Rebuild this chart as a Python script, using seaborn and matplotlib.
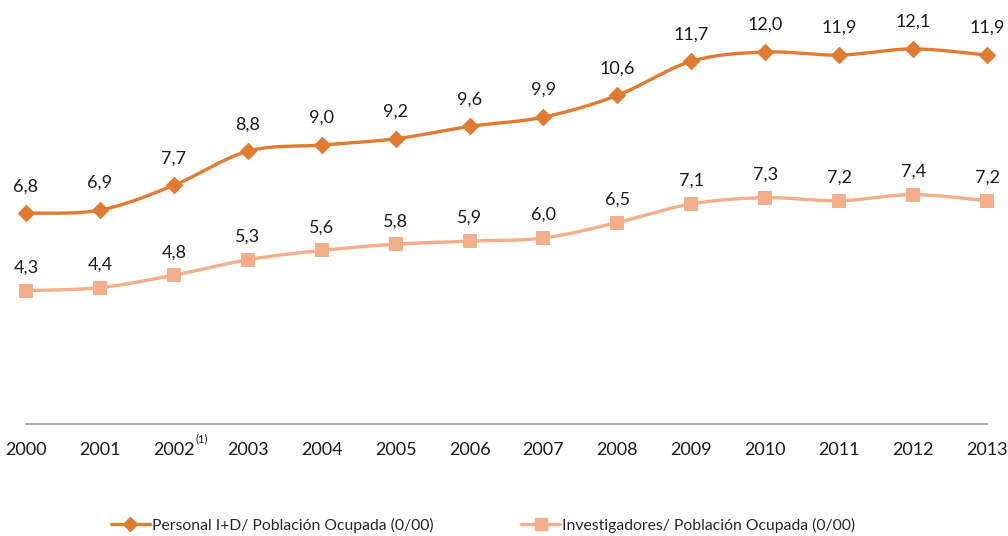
import numpy as np
import pandas as pd
import matplotlib
matplotlib.use("Agg")
import matplotlib.pyplot as plt
from matplotlib.lines import Line2D
import seaborn as sns

years = [2000, 2001, 2002, 2003, 2004, 2005, 2006, 2007, 2008, 2009, 2010, 2011, 2012, 2013]
tick_labels = ["2000", "2001", "2002", "2003", "2004", "2005", "2006", "2007",
               "2008", "2009", "2010", "2011", "2012", "2013"]
note_year = 2002
note_text = "(1)"
personal = [6.8, 6.9, 7.7, 8.8, 9.0, 9.2, 9.6, 9.9, 10.6, 11.7, 12.0, 11.9, 12.1, 11.9]
investigadores = [4.3, 4.4, 4.8, 5.3, 5.6, 5.8, 5.9, 6.0, 6.5, 7.1, 7.3, 7.2, 7.4, 7.2]
name_personal = "Personal I+D/ Población Ocupada (0/00)"
name_invest = "Investigadores/ Población Ocupada (0/00)"

c_dark = "#E07B31"
c_light = "#F4AE8A"

sns.set_theme(style="white")
plt.rcParams['font.family'] = ['Lato', 'DejaVu Sans']


def smooth(xs, ys, n=30):
    """Catmull-Rom style Bezier smoothing (like spreadsheet smoothed lines)."""
    xs = np.asarray(xs, float)
    ys = np.asarray(ys, float)
    px = np.concatenate([[xs[0]], xs, [xs[-1]]])
    py = np.concatenate([[ys[0]], ys, [ys[-1]]])
    outx, outy = [], []
    t = np.linspace(0, 1, n)
    for i in range(1, len(px) - 2):
        p0 = np.array([px[i], py[i]])
        p3 = np.array([px[i + 1], py[i + 1]])
        p1 = p0 + (np.array([px[i + 1], py[i + 1]]) - np.array([px[i - 1], py[i - 1]])) / 6
        p2 = p3 - (np.array([px[i + 2], py[i + 2]]) - np.array([px[i], py[i]])) / 6
        b = ((1 - t) ** 3)[:, None] * p0 + (3 * (1 - t) ** 2 * t)[:, None] * p1 + \
            (3 * (1 - t) * t ** 2)[:, None] * p2 + (t ** 3)[:, None] * p3
        outx.extend(b[:, 0])
        outy.extend(b[:, 1])
    return np.array(outx), np.array(outy)


fig = plt.figure(figsize=(10.08, 5.36), dpi=100)
ax = fig.add_axes([26 / 1008, 112 / 536, (987 - 26) / 1008, (424 - 2) / 536])

for vals, col, mk, ms, off in [(personal, c_dark, 'D', 10, 27), (investigadores, c_light, 's', 10, 23)]:
    sx, sy = smooth(years, vals)
    sns.lineplot(x=sx, y=sy, ax=ax, color=col, linewidth=2.4, sort=False, estimator=None, clip_on=False)
    df = pd.DataFrame({"year": years, "val": vals})
    sns.scatterplot(data=df, x="year", y="val", ax=ax, marker=mk, s=ms ** 2 if mk == 's' else (ms * 0.9) ** 2,
                    color=col, edgecolor=col, linewidth=0, clip_on=False, zorder=5)
    for x, v in zip(years, vals):
        ax.annotate(f"{v:.1f}".replace(".", ","), (x, v), xytext=(0, off * 0.72), textcoords="offset points",
                    ha="center", va="center", fontsize=13, color="#1a1a1a")

ax.set_xlim(2000, 2013)
ax.set_ylim(0, (424 - 2) / 31)
ax.set_yticks([])
ax.set_xticks(years)
ax.set_xticklabels(tick_labels, fontsize=13, color="#1a1a1a")
ax.tick_params(axis='x', length=0, pad=13)
for s in ["top", "right", "left"]:
    ax.spines[s].set_visible(False)
ax.spines["bottom"].set_color("#9a9a9a")
ax.spines["bottom"].set_linewidth(1.2)
ax.set_xlabel("")
ax.set_ylabel("")

# superscript note next to the 2002 tick label
ax.annotate(note_text, (note_year, 0), xycoords=("data", "axes fraction"), xytext=(15.5, -10.5),
            textcoords="offset points", ha="left", va="center", fontsize=8, color="#1a1a1a",
            annotation_clip=False)

handles = [
    Line2D([0], [0], color=c_dark, lw=2.4, marker='D', markersize=7, label=name_personal),
    Line2D([0], [0], color=c_light, lw=2.4, marker='s', markersize=8, label=name_invest),
]
fig.legend(handles=handles, loc="center", bbox_to_anchor=(483 / 1008, 11 / 536), ncol=2, frameon=False,
           fontsize=11.3, handlelength=2.5, handletextpad=0.1, columnspacing=5.6)

fig.savefig("out.png", dpi=100)
